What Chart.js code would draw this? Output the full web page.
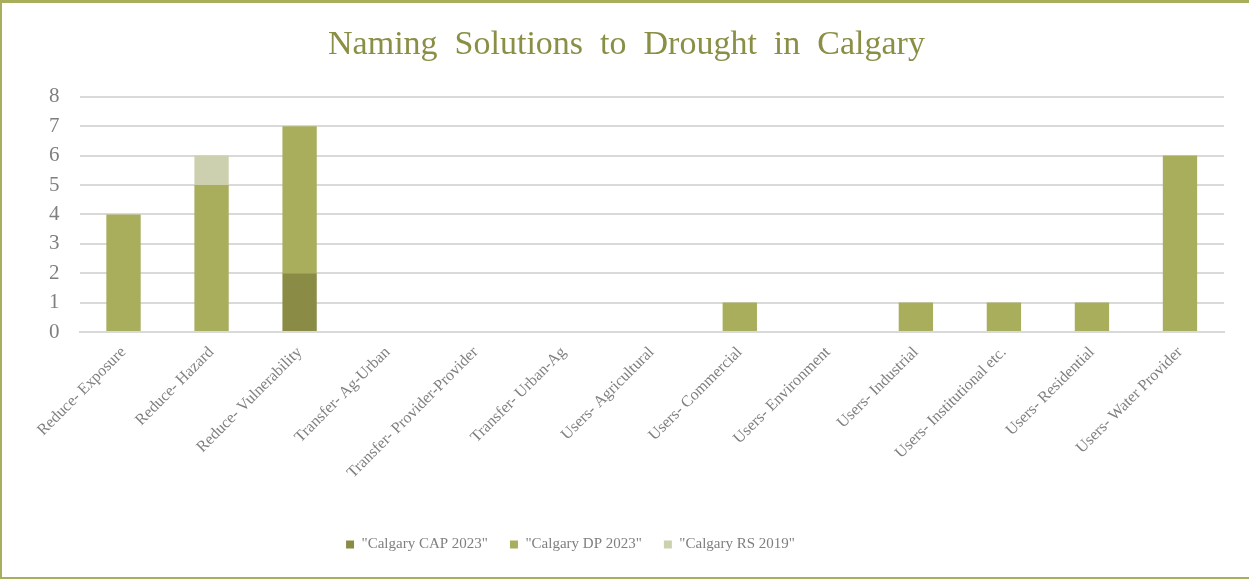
<!DOCTYPE html>
<html>
<head>
<meta charset="utf-8">
<script src="https://cdn.jsdelivr.net/npm/chart.js@4/dist/chart.umd.min.js"></script>
<style>
  html, body { margin: 0; padding: 0; background: #fff; }
  #frame {
    width: 1249px; height: 579px; box-sizing: border-box;
    border-top: 3px solid #A9AE5C; border-left: 2px solid #A9AE5C; border-bottom: 2px solid #A9AE5C;
    position: relative;
  }
  #wrap { position: absolute; left: 0; top: 0; width: 1247px; height: 574px; }
</style>
</head>
<body>
<div id="frame"><div id="wrap"><canvas id="droughtChart"></canvas></div></div>
<script>
const categories = [
  "Reduce- Exposure", "Reduce- Hazard", "Reduce- Vulnerability",
  "Transfer- Ag-Urban", "Transfer- Provider-Provider", "Transfer- Urban-Ag",
  "Users- Agricultural", "Users- Commercial", "Users- Environment",
  "Users- Industrial", "Users- Institutional etc.", "Users- Residential",
  "Users- Water Provider"
];
const cap2023 = [0, 0, 2, 0, 0, 0, 0, 0, 0, 0, 0, 0, 0];
const dp2023  = [4, 5, 5, 0, 0, 0, 0, 1, 0, 1, 1, 1, 6];
const rs2019  = [0, 1, 0, 0, 0, 0, 0, 0, 0, 0, 0, 0, 0];
const yTicks  = [0, 1, 2, 3, 4, 5, 6, 7, 8];

const serif = "'Liberation Serif', 'Times New Roman', serif";
const grey = "#7F7F7F";

// legend sits a little left of centre
const legendShift = {
  id: "legendShift",
  afterLayout(chart) {
    chart.legend.left -= 56;
    chart.legend.right -= 56;
  },
};

const ctx = document.getElementById("droughtChart");

new Chart(ctx, {
  type: "bar",
  data: {
    labels: categories,
    datasets: [
      { label: '"Calgary CAP 2023"', data: cap2023, backgroundColor: "#8A8B45" },
      { label: '"Calgary DP 2023"', data: dp2023, backgroundColor: "#A9AE5C" },
      { label: '"Calgary RS 2019"', data: rs2019, backgroundColor: "#CDD0AE" },
    ],
  },
  plugins: [legendShift],
  options: {
    responsive: true,
    maintainAspectRatio: false,
    animation: false,
    layout: { padding: { left: 27, right: 25, top: 10, bottom: 15 } },
    datasets: { bar: { categoryPercentage: 1, barPercentage: 0.39 } },
    plugins: {
      title: {
        display: true,
        text: "Naming  Solutions  to  Drought  in  Calgary",
        color: "#8A8F45",
        font: { family: serif, size: 34, weight: "normal" },
        padding: { top: 12, bottom: 31 },
      },
      legend: {
        position: "bottom",
        labels: {
          color: grey,
          font: { family: serif, size: 15 },
          boxWidth: 8,
          boxHeight: 8,
          padding: 22,
        },
      },
      tooltip: { enabled: false },
    },
    scales: {
      x: {
        stacked: true,
        grid: { display: false },
        border: { color: "#D9D9D9", width: 2 },
        afterFit: (axis) => { axis.height = 183; },
        ticks: {
          color: grey,
          font: { family: serif, size: 16 },
          maxRotation: 45,
          minRotation: 45,
          autoSkip: false,
        },
      },
      y: {
        stacked: true,
        min: 0,
        max: 8,
        afterBuildTicks: (axis) => { axis.ticks = yTicks.map((v) => ({ value: v })); },
        grid: { color: "#D9D9D9", lineWidth: 2, drawTicks: false },
        border: { display: false },
        ticks: {
          color: grey,
          font: { family: serif, size: 21 },
          padding: 20,
        },
      },
    },
  },
});
</script>
</body>
</html>
